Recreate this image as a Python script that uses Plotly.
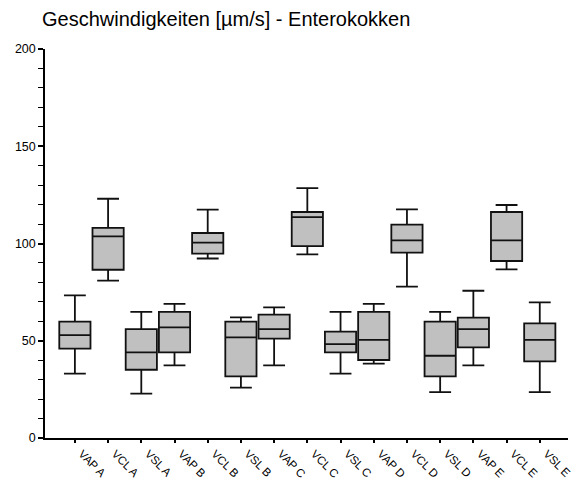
import plotly.graph_objects as go

# Categories (velocity measure + sample group)
categories = ["VAP A", "VCL A", "VSL A", "VAP B", "VCL B", "VSL B", "VAP C", "VCL C",
              "VSL C", "VAP D", "VCL D", "VSL D", "VAP E", "VCL E", "VSL E"]

# Box statistics in µm/s
lower_whisker = [33.1, 80.9, 22.8, 37.3, 92.3, 25.9, 37.3, 94.4, 33.1, 38.2, 77.8, 23.6, 37.3, 86.7, 23.6]
q1_values     = [45.9, 86.5, 35.1, 44.0, 94.8, 31.7, 51.1, 98.7, 44.0, 40.1, 95.3, 31.7, 46.6, 91.0, 39.4]
medians       = [52.9, 103.7, 44.0, 56.9, 100.4, 51.7, 56.0, 113.6, 48.3, 50.4, 101.6, 42.3, 56.0, 101.6, 50.4]
q3_values     = [59.8, 108.0, 56.0, 64.8, 105.4, 59.8, 63.4, 116.2, 54.7, 64.8, 109.7, 59.8, 61.9, 116.2, 58.9]
upper_whisker = [73.3, 123.0, 64.8, 69.0, 117.4, 62.0, 67.2, 128.5, 64.8, 69.0, 117.5, 64.8, 75.7, 119.8, 69.7]

y_tick_values = [0, 50, 100, 150, 200]

fig = go.Figure(
    go.Box(
        x=categories,
        q1=q1_values,
        median=medians,
        q3=q3_values,
        lowerfence=lower_whisker,
        upperfence=upper_whisker,
        fillcolor="#c0c0c0",
        line=dict(color="#111111", width=1.8),
        whiskerwidth=0.7,
        boxpoints=False,
        showlegend=False,
        hoverinfo="skip",
    )
)

fig.update_layout(
    width=580,
    height=485,
    margin=dict(l=45, r=12, t=49, b=47),
    paper_bgcolor="white",
    plot_bgcolor="white",
    boxgap=0.06,
    boxgroupgap=0,
    font=dict(family="Liberation Sans, Arial, sans-serif", size=12, color="black"),
    title=dict(
        text="Geschwindigkeiten [µm/s] - Enterokokken",
        x=42 / 580,
        xanchor="left",
        y=1 - 19 / 485,
        yanchor="middle",
        font=dict(size=20, color="black"),
    ),
)

fig.update_xaxes(
    type="category",
    range=[-0.9, 14.85],
    automargin=False,
    showgrid=False,
    zeroline=False,
    showline=True,
    linecolor="black",
    linewidth=1.5,
    ticks="outside",
    ticklen=3,
    tickwidth=2,
    tickcolor="black",
    tickangle=45,
    ticklabelshift=7,
    ticklabelstandoff=0,
    tickfont=dict(size=11.5),
)

fig.update_yaxes(
    range=[0, 200],
    automargin=False,
    tickvals=y_tick_values,
    showgrid=False,
    zeroline=False,
    showline=True,
    linecolor="black",
    linewidth=1.5,
    ticks="outside",
    ticklen=5,
    tickwidth=1.5,
    tickcolor="black",
    tickfont=dict(size=12.5),
    minor=dict(dtick=10, ticks="outside", ticklen=5, tickwidth=1, tickcolor="black"),
)

fig.write_html("out.html")
